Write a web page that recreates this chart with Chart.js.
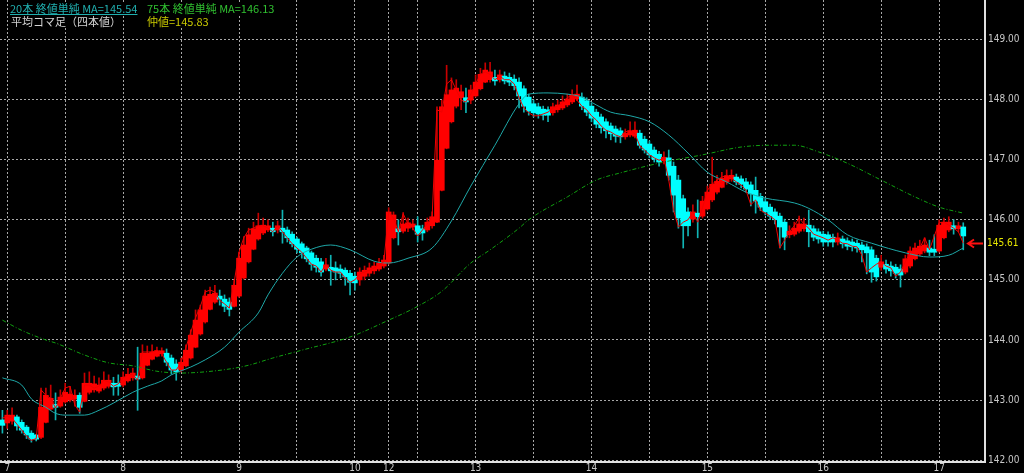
<!DOCTYPE html>
<html lang="ja">
<head>
    <meta charset="UTF-8">
    <title>平均コマ足（四本値）</title>
    <script src="https://cdn.jsdelivr.net/npm/chart.js@4.4.1/dist/chart.umd.min.js"></script>
    <style>
        html, body { margin: 0; padding: 0; background: #000; }
        #wrap { position: relative; width: 1024px; height: 473px; overflow: hidden; }
        #grafico { position: absolute; left: 0; top: 0; }
        .leyenda { position: absolute; font: 11px "Noto Sans CJK JP", sans-serif; line-height: 12px; white-space: pre; background: #000; }
        #ultimo { font: 10px "Liberation Sans Narrow", "DejaVu Sans Condensed", "DejaVu Sans Mono", monospace; color: #e6e600; background: transparent; }
    </style>
</head>
<body>
<div id="wrap">
    <canvas id="grafico" width="1024" height="473"></canvas>
    <div class="leyenda" style="left:10px;top:2px;color:#20b0b0;text-decoration:underline;">20本 終値単純 MA=145.54</div>
    <div class="leyenda" style="left:147px;top:2px;color:#30c030;">75本 終値単純 MA=146.13</div>
    <div class="leyenda" style="left:11px;top:15px;color:#d4d4d4;">平均コマ足（四本値）</div>
    <div class="leyenda" style="left:147px;top:15px;color:#c8c800;">仲値=145.83</div>
    <div id="ultimo" class="leyenda" style="left:987px;top:238px;"></div>
</div>

<script>
// x axis: one slot per hourly candle, day numbers where the date changes
const gridIdx = [1, 13, 25, 37, 49, 61, 73, 80, 86, 98, 110, 122, 134, 146, 158, 170, 182, 194];
const dayIdx = [1, 25, 49, 73, 80, 98, 122, 146, 170, 194];
const dayText = ['7', '8', '9', '10', '12', '13', '14', '15', '16', '17'];
const slots = 204;

// heikin-ashi four prices
const haOpen = [
    142.67,142.62,142.65,142.72,142.63,142.55,142.45,142.42,142.38,142.63,
    142.85,142.92,142.90,142.97,143.00,143.02,143.08,142.98,143.13,143.17,
    143.15,143.20,143.23,143.28,143.28,143.25,143.32,143.37,143.38,143.37,
    143.58,143.68,143.73,143.77,143.78,143.70,143.60,143.50,143.57,143.70,
    143.88,144.10,144.30,144.51,144.63,144.73,144.68,144.63,144.56,144.73,
    145.03,145.30,145.51,145.68,145.78,145.83,145.86,145.83,145.86,145.83,
    145.76,145.68,145.60,145.53,145.45,145.36,145.30,145.18,145.21,145.20,
    145.18,145.16,145.11,145.06,145.00,145.06,145.11,145.15,145.18,145.23,
    145.28,145.70,145.85,145.81,145.86,145.88,145.90,145.85,145.83,145.90,
    145.96,146.49,147.19,147.63,147.89,148.03,148.03,147.99,148.06,148.18,
    148.29,148.33,148.37,148.33,148.39,148.37,148.34,148.29,148.18,148.04,
    147.93,147.88,147.84,147.83,147.78,147.83,147.86,147.91,147.96,148.01,
    148.04,147.98,147.89,147.79,147.71,147.63,147.56,147.51,147.48,147.38,
    147.41,147.39,147.44,147.34,147.26,147.16,147.09,146.98,147.03,146.89,
    146.66,146.35,146.13,146.01,146.11,146.06,146.18,146.33,146.46,146.54,
    146.63,146.68,146.71,146.68,146.63,146.58,146.49,146.39,146.30,146.21,
    146.13,146.06,145.96,145.75,145.76,145.81,145.85,145.91,145.85,145.80,
    145.76,145.75,145.71,145.63,145.68,145.65,145.63,145.61,145.58,145.55,
    145.50,145.36,145.21,145.26,145.23,145.21,145.18,145.13,145.23,145.35,
    145.43,145.48,145.53,145.51,145.48,145.70,145.83,145.90,145.85,145.88
];
const haClose = [
    142.58,142.75,142.75,142.57,142.50,142.42,142.35,142.35,142.88,143.08,
    143.03,142.88,143.05,143.13,143.10,143.08,142.88,143.28,143.28,143.27,
    143.25,143.33,143.33,143.22,143.23,143.38,143.43,143.45,143.35,143.78,
    143.78,143.80,143.82,143.82,143.63,143.50,143.47,143.63,143.83,144.08,
    144.33,144.50,144.73,144.76,144.78,144.68,144.56,144.51,144.91,145.36,
    145.58,145.75,145.85,145.90,145.91,145.90,145.80,145.90,145.80,145.70,
    145.60,145.51,145.45,145.35,145.26,145.21,145.13,145.25,145.15,145.13,
    145.11,145.05,144.96,144.95,145.13,145.16,145.20,145.23,145.28,145.33,
    146.13,146.08,145.80,145.93,145.95,145.93,145.76,145.78,145.96,146.05,
    146.99,147.88,148.08,148.16,148.19,148.13,147.96,148.16,148.29,148.42,
    148.49,148.46,148.31,148.41,148.31,148.29,148.23,148.06,147.89,147.81,
    147.78,147.76,147.74,147.74,147.88,147.91,147.96,148.01,148.08,148.09,
    147.89,147.79,147.69,147.59,147.53,147.48,147.43,147.39,147.38,147.44,
    147.48,147.49,147.24,147.16,147.08,147.01,146.96,147.04,146.74,146.41,
    146.03,145.90,145.90,146.13,146.05,146.31,146.46,146.59,146.64,146.69,
    146.73,146.74,146.63,146.59,146.51,146.43,146.31,146.21,146.13,146.06,
    146.00,145.88,145.71,145.81,145.86,145.93,145.93,145.80,145.71,145.68,
    145.63,145.63,145.63,145.70,145.60,145.56,145.55,145.53,145.50,145.45,
    145.13,145.05,145.30,145.18,145.15,145.11,145.08,145.35,145.48,145.53,
    145.56,145.58,145.46,145.46,145.91,145.96,145.96,145.85,145.90,145.73
];
const haHigh = [
    142.83,142.83,142.87,142.75,142.67,142.58,142.49,142.43,143.20,143.20,
    143.25,143.12,143.17,143.28,143.23,143.17,143.12,143.45,143.47,143.40,
    143.37,143.47,143.42,143.38,143.42,143.47,143.53,143.53,143.88,143.92,
    143.90,143.92,143.88,143.87,143.85,143.75,143.67,143.70,143.92,144.17,
    144.50,144.58,144.83,144.88,144.91,144.83,144.75,144.70,145.00,145.46,
    145.72,145.86,145.96,146.11,146.03,146.00,145.96,145.98,146.16,145.88,
    145.80,145.71,145.63,145.56,145.48,145.41,145.36,145.36,145.41,145.30,
    145.25,145.20,145.16,145.13,145.20,145.23,145.28,145.30,145.36,145.41,
    146.20,146.13,146.00,146.12,146.03,146.00,146.05,145.91,146.03,146.13,
    147.88,147.99,148.57,148.36,148.33,148.24,148.19,148.24,148.41,148.52,
    148.61,148.62,148.49,148.49,148.46,148.44,148.41,148.36,148.23,148.09,
    147.99,147.94,147.89,147.88,147.94,147.99,148.06,148.09,148.16,148.24,
    148.11,148.03,147.94,147.84,147.76,147.68,147.61,147.56,147.53,147.51,
    147.63,147.63,147.49,147.39,147.31,147.21,147.14,147.13,147.16,146.96,
    146.74,146.41,146.20,146.25,146.33,146.39,146.56,147.04,146.74,146.79,
    146.83,146.83,146.76,146.73,146.69,146.63,146.71,146.44,146.35,146.26,
    146.18,146.11,146.01,145.90,145.96,146.06,146.03,146.16,145.90,145.85,
    145.81,145.80,145.76,145.78,145.73,145.70,145.68,145.66,145.63,145.60,
    145.55,145.41,145.41,145.33,145.30,145.26,145.25,145.41,145.55,145.61,
    145.66,145.70,145.66,145.75,146.00,146.03,146.05,146.00,145.96,145.95
];
const haLow = [
    142.45,142.53,142.60,142.50,142.45,142.36,142.30,142.32,142.36,142.62,
    142.83,142.67,142.88,142.95,142.97,142.90,142.78,142.97,143.10,143.13,
    143.12,143.17,143.20,143.08,143.08,143.22,143.30,143.33,142.83,143.35,
    143.57,143.67,143.72,143.73,143.57,143.43,143.33,143.47,143.55,143.68,
    143.87,144.08,144.28,144.50,144.61,144.58,144.47,144.40,144.55,144.71,
    145.01,145.28,145.50,145.66,145.75,145.80,145.73,145.78,145.61,145.63,
    145.55,145.45,145.36,145.30,145.16,145.13,145.06,145.15,144.91,145.00,
    145.03,144.91,144.75,144.83,144.91,145.00,145.06,145.10,145.15,145.20,
    145.26,145.68,145.58,145.78,145.80,145.83,145.63,145.66,145.80,145.86,
    145.95,146.48,147.18,147.61,147.86,147.83,147.78,147.93,148.04,148.16,
    148.28,148.29,148.24,148.29,148.26,148.23,148.16,147.86,147.79,147.74,
    147.71,147.69,147.66,147.63,147.74,147.79,147.83,147.88,147.93,147.98,
    147.83,147.73,147.63,147.53,147.44,147.36,147.33,147.29,147.28,147.34,
    147.38,147.36,147.19,147.11,147.03,146.96,146.89,146.93,146.66,146.13,
    145.86,145.53,145.73,145.96,145.70,146.03,146.16,146.30,146.43,146.53,
    146.59,146.64,146.58,146.53,146.46,146.23,146.11,146.15,146.08,146.00,
    145.93,145.53,145.50,145.70,145.73,145.78,145.81,145.55,145.65,145.61,
    145.56,145.56,145.55,145.58,145.53,145.50,145.48,145.46,145.30,145.10,
    144.96,144.98,145.16,145.11,145.06,145.03,144.88,145.10,145.20,145.33,
    145.40,145.45,145.40,145.40,145.46,145.68,145.80,145.76,145.80,145.50
];

// thin red line (仲値)
const midLine = [
    142.70,142.73,142.70,142.60,142.50,142.40,142.33,142.36,143.17,143.08,
    143.03,142.87,143.03,143.20,143.23,142.92,142.80,143.25,143.25,143.20,
    143.23,143.33,143.30,143.23,143.27,143.37,143.42,143.43,143.33,143.80,
    143.80,143.80,143.83,143.77,143.63,143.50,143.50,143.63,143.87,144.13,
    144.37,144.56,144.80,144.83,144.80,144.66,144.60,144.53,144.96,145.46,
    145.70,145.83,145.86,145.90,145.90,145.86,145.80,145.90,145.80,145.70,
    145.60,145.53,145.46,145.36,145.26,145.23,145.13,145.26,145.16,145.13,
    145.13,145.03,144.96,145.00,145.10,145.13,145.16,145.20,145.25,145.30,
    146.13,146.03,145.80,146.10,145.93,145.86,145.73,145.83,145.93,146.06,
    147.83,147.79,148.26,148.33,148.16,147.99,147.96,148.09,148.26,148.42,
    148.46,148.42,148.33,148.39,148.33,148.33,148.26,148.03,147.86,147.78,
    147.73,147.73,147.76,147.79,147.86,147.89,147.94,148.03,148.08,147.99,
    147.89,147.83,147.73,147.66,147.56,147.49,147.46,147.41,147.38,147.46,
    147.49,147.43,147.23,147.16,147.08,147.03,146.99,147.03,146.66,146.16,
    145.88,145.96,146.00,146.13,145.96,146.20,146.49,146.59,146.66,146.71,
    146.74,146.69,146.63,146.58,146.49,146.25,146.33,146.16,146.11,146.06,
    146.00,145.53,145.66,145.80,145.90,146.03,145.93,145.86,145.76,145.73,
    145.70,145.66,145.70,145.66,145.61,145.60,145.56,145.55,145.41,145.13,
    145.20,145.26,145.30,145.23,145.20,145.06,145.13,145.30,145.46,145.50,
    145.53,145.70,145.50,145.73,145.95,145.96,145.91,145.86,145.80,145.61
];

// moving averages, read at these candle slots
const ma20At = [0,4,6,9,11,13,17,20,23,27,30,33,35,39,42,46,49,53,55,58,61,64,68,72,77,80,84,89,93,97,102,107,109,113,117,120,123,126,130,134,138,142,146,150,154,158,164,167,171,175,180,187,192,196,199];
const ma20 = [143.37,143.25,143.02,142.88,142.78,142.75,142.75,142.83,142.95,143.13,143.23,143.32,143.42,143.55,143.67,143.88,144.13,144.45,144.75,145.11,145.38,145.51,145.58,145.50,145.31,145.28,145.36,145.53,145.98,146.56,147.24,147.93,148.09,148.11,148.09,148.04,147.91,147.79,147.73,147.63,147.41,147.11,146.79,146.63,146.46,146.36,146.28,146.19,146.00,145.75,145.61,145.45,145.38,145.41,145.53];
const ma75At = [0,4,9,11,17,22,27,32,37,42,48,51,56,62,72,80,86,91,97,101,107,109,117,123,128,137,145,153,159,164,169,175,182,189,194,199];
const ma75 = [144.33,144.16,144.00,143.95,143.75,143.62,143.57,143.48,143.45,143.47,143.53,143.58,143.70,143.83,144.05,144.33,144.56,144.81,145.28,145.50,145.86,146.00,146.38,146.66,146.78,146.96,147.08,147.21,147.24,147.24,147.13,146.94,146.66,146.38,146.21,146.11];

document.addEventListener("DOMContentLoaded", function () {
    const up = haOpen.map((o, i) => haClose[i] >= o);
    const tickFont = { family: "'Liberation Sans Narrow', 'DejaVu Sans Condensed', 'DejaVu Sans Mono', monospace", size: 10 };
    const gridGray = '#a8a8a8';

    // red arrow pointing at the last price
    const flecha = {
        id: 'flecha',
        afterDatasetsDraw(chart) {
            const c = chart.ctx, area = chart.chartArea;
            const y = Math.round(chart.scales.y.getPixelForValue(midLine[midLine.length - 1])) + 0.5;
            const x0 = area.right - 17, x1 = area.right - 2;
            c.save();
            c.strokeStyle = '#ff1010';
            c.lineWidth = 2;
            c.beginPath();
            c.moveTo(x0, y); c.lineTo(x1, y);
            c.moveTo(x0 + 6, y - 4); c.lineTo(x0, y); c.lineTo(x0 + 6, y + 4);
            c.stroke();
            c.restore();
        }
    };

    const ctx = document.getElementById("grafico").getContext("2d");
    const grafico = new Chart(ctx, {
        type: 'bar',
        data: {
            datasets: [
                {
                    type: 'line', label: '仲値',
                    data: midLine.map((v, i) => ({ x: i, y: v })),
                    borderColor: '#f00000', borderWidth: 1, pointRadius: 0, tension: 0
                },
                {
                    type: 'line', label: '20本',
                    data: ma20At.map((x, k) => ({ x: x, y: ma20[k] })),
                    borderColor: '#1ea8a8', borderWidth: 1, pointRadius: 0, cubicInterpolationMode: 'monotone'
                },
                {
                    type: 'line', label: '75本',
                    data: ma75At.map((x, k) => ({ x: x, y: ma75[k] })),
                    borderColor: '#10a010', borderWidth: 1, borderDash: [4, 2, 1, 2], pointRadius: 0, cubicInterpolationMode: 'monotone'
                },
                {
                    label: '実体',
                    data: haOpen.map((o, i) => ({ x: i, y: [o, haClose[i]] })),
                    backgroundColor: up.map(u => u ? '#ff0000' : '#00ffff'),
                    borderWidth: 0, barThickness: 5, minBarLength: 3, grouped: false
                },
                {
                    label: 'ヒゲ',
                    data: haLow.map((l, i) => ({ x: i, y: [l, haHigh[i]] })),
                    backgroundColor: up.map(u => u ? '#c80000' : '#10b4b4'),
                    borderWidth: 0, barThickness: 1, grouped: false
                }
            ]
        },
        options: {
            responsive: false,
            animation: false,
            devicePixelRatio: 1,
            events: [],
            layout: { padding: 0, autoPadding: false },
            plugins: { legend: { display: false }, tooltip: { enabled: false } },
            scales: {
                x: {
                    type: 'linear', min: -0.5, max: slots - 0.5, offset: false,
                    afterBuildTicks: s => { s.ticks = gridIdx.map(v => ({ value: v })); },
                    afterFit: s => { s.height = 11; s.paddingLeft = 0; s.paddingRight = 0; },
                    ticks: {
                        autoSkip: false, maxRotation: 0, padding: 0, color: '#c8c8c8', font: tickFont,
                        callback: v => { const k = dayIdx.indexOf(v); return k < 0 ? '' : dayText[k]; }
                    },
                    grid: { color: gridGray, lineWidth: 1, drawTicks: false, offset: false },
                    border: { display: true, color: '#e0e0e0', width: 2, dash: [2, 2] }
                },
                y: {
                    position: 'right', min: 141.97, max: 149.656,
                    afterFit: s => { s.width = 39; s.paddingTop = 0; s.paddingBottom = 0; },
                    ticks: {
                        stepSize: 1, includeBounds: false, padding: 3, color: '#c8c8c8', font: tickFont,
                        callback: v => v.toFixed(2)
                    },
                    grid: { color: gridGray, lineWidth: 1, drawTicks: false },
                    border: { display: true, color: '#e0e0e0', width: 2, dash: [2, 2] }
                }
            }
        },
        plugins: [flecha]
    });

    const last = midLine[midLine.length - 1];
    const etiqueta = document.getElementById('ultimo');
    etiqueta.textContent = last.toFixed(2);
    etiqueta.style.top = (grafico.scales.y.getPixelForValue(last) - 6) + 'px';
});
</script>
</body>
</html>
